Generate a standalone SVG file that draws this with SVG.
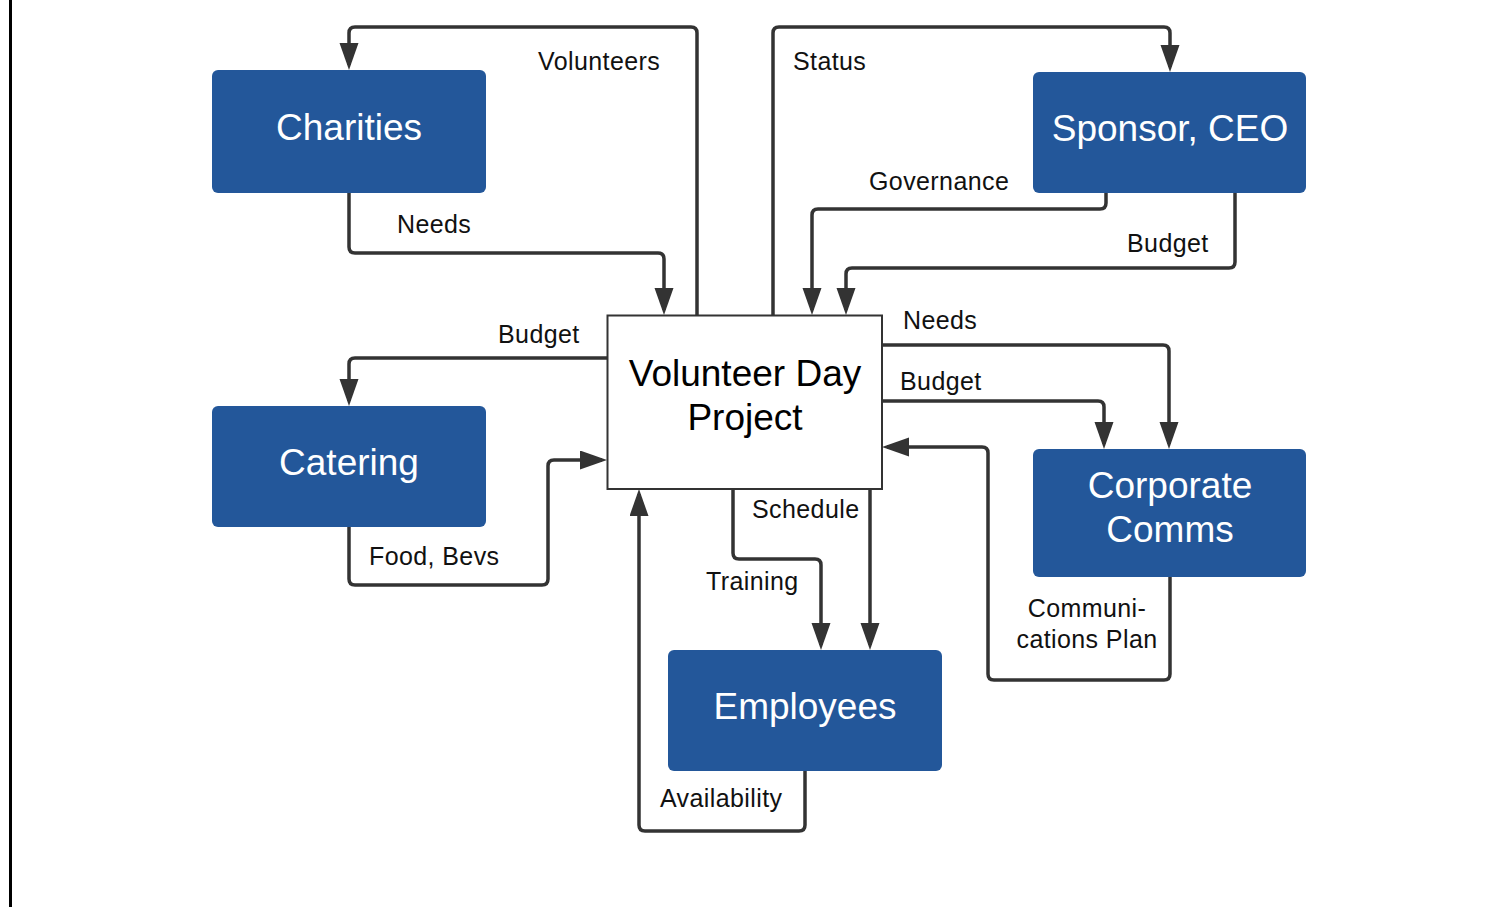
<svg xmlns="http://www.w3.org/2000/svg" width="1506" height="907" viewBox="0 0 1506 907">
  <defs>
    <style>
      .node rect.box { fill: #23579a; }
      .node text { fill: #ffffff; font-family: "Liberation Sans", Arial, sans-serif; font-size: 37px; text-anchor: middle; }
      .hub rect { fill: #ffffff; stroke: #333333; stroke-width: 2; }
      .hub text { fill: #000000; font-family: "Liberation Sans", Arial, sans-serif; font-size: 37px; text-anchor: middle; }
      .conn path { fill: none; stroke: #333333; stroke-width: 3.5; stroke-linejoin: round; }
      .lbl { fill: #111111; font-family: "Liberation Sans", Arial, sans-serif; font-size: 25px; letter-spacing: 0.4px; }
    </style>
    <marker id="arrow" markerUnits="userSpaceOnUse" markerWidth="28" markerHeight="20" refX="22" refY="9.5" orient="auto">
      <path d="M0,0 L27,9.5 L0,19 z" fill="#333333"/>
    </marker>
  </defs>

  <rect width="1506" height="907" fill="#ffffff"/>
  <line x1="10.5" y1="0" x2="10.5" y2="907" stroke="#000000" stroke-width="3"/>

  <!-- connectors -->
  <g id="connectors" class="conn">
    <path d="M697,315 L697,33 Q697,27 691,27 L355,27 Q349,27 349,33 L349,65" marker-end="url(#arrow)"/>
    <path d="M349,193 L349,247 Q349,253 355,253 L658,253 Q664,253 664,259 L664,310" marker-end="url(#arrow)"/>
    <path d="M773,315 L773,33 Q773,27 779,27 L1164,27 Q1170,27 1170,33 L1170,67" marker-end="url(#arrow)"/>
    <path d="M1106,193 L1106,203 Q1106,209 1100,209 L818,209 Q812,209 812,215 L812,310" marker-end="url(#arrow)"/>
    <path d="M1235,193 L1235,262 Q1235,268 1229,268 L852,268 Q846,268 846,274 L846,310" marker-end="url(#arrow)"/>
    <path d="M882,345 L1163,345 Q1169,345 1169,351 L1169,444" marker-end="url(#arrow)"/>
    <path d="M882,401 L1098,401 Q1104,401 1104,407 L1104,444" marker-end="url(#arrow)"/>
    <path d="M1170,577 L1170,674 Q1170,680 1164,680 L994,680 Q988,680 988,674 L988,453 Q988,447 982,447 L887,447" marker-end="url(#arrow)"/>
    <path d="M607,358 L355,358 Q349,358 349,364 L349,401" marker-end="url(#arrow)"/>
    <path d="M349,527 L349,579 Q349,585 355,585 L542,585 Q548,585 548,579 L548,466 Q548,460 554,460 L602,460" marker-end="url(#arrow)"/>
    <path d="M733,489 L733,553 Q733,559 739,559 L815,559 Q821,559 821,565 L821,645" marker-end="url(#arrow)"/>
    <path d="M870,489 L870,645" marker-end="url(#arrow)"/>
    <path d="M805,771 L805,825 Q805,831 799,831 L645,831 Q639,831 639,825 L639,494" marker-end="url(#arrow)"/>
  </g>

  <!-- connector labels -->
  <g id="labels">
    <text class="lbl" x="538" y="70">Volunteers</text>
    <text class="lbl" x="397" y="233">Needs</text>
    <text class="lbl" x="793" y="70">Status</text>
    <text class="lbl" x="869" y="190">Governance</text>
    <text class="lbl" x="1127" y="252">Budget</text>
    <text class="lbl" x="903" y="329">Needs</text>
    <text class="lbl" x="900" y="390">Budget</text>
    <text class="lbl" x="498" y="343">Budget</text>
    <text class="lbl" x="369" y="565">Food, Bevs</text>
    <text class="lbl" x="752" y="518">Schedule</text>
    <text class="lbl" x="706" y="590">Training</text>
    <text class="lbl" x="1087" y="617" text-anchor="middle">Communi-</text>
    <text class="lbl" x="1087" y="648" text-anchor="middle">cations Plan</text>
    <text class="lbl" x="660" y="807">Availability</text>
  </g>

  <!-- nodes -->
  <g id="charities" class="node">
    <rect class="box" x="212" y="70" width="274" height="123" rx="6"/>
    <text x="349" y="140">Charities</text>
  </g>
  <g id="sponsor-ceo" class="node">
    <rect class="box" x="1033" y="72" width="273" height="121" rx="6"/>
    <text x="1170" y="141">Sponsor, CEO</text>
  </g>
  <g id="catering" class="node">
    <rect class="box" x="212" y="406" width="274" height="121" rx="6"/>
    <text x="349" y="475">Catering</text>
  </g>
  <g id="corporate-comms" class="node">
    <rect class="box" x="1033" y="449" width="273" height="128" rx="6"/>
    <text x="1170" y="498">Corporate</text>
    <text x="1170" y="542">Comms</text>
  </g>
  <g id="employees" class="node">
    <rect class="box" x="668" y="650" width="274" height="121" rx="6"/>
    <text x="805" y="719">Employees</text>
  </g>
  <g id="volunteer-day-project" class="hub">
    <rect x="607.5" y="315.5" width="274.5" height="173.5"/>
    <text x="745" y="386">Volunteer Day</text>
    <text x="745" y="430">Project</text>
  </g>
</svg>
